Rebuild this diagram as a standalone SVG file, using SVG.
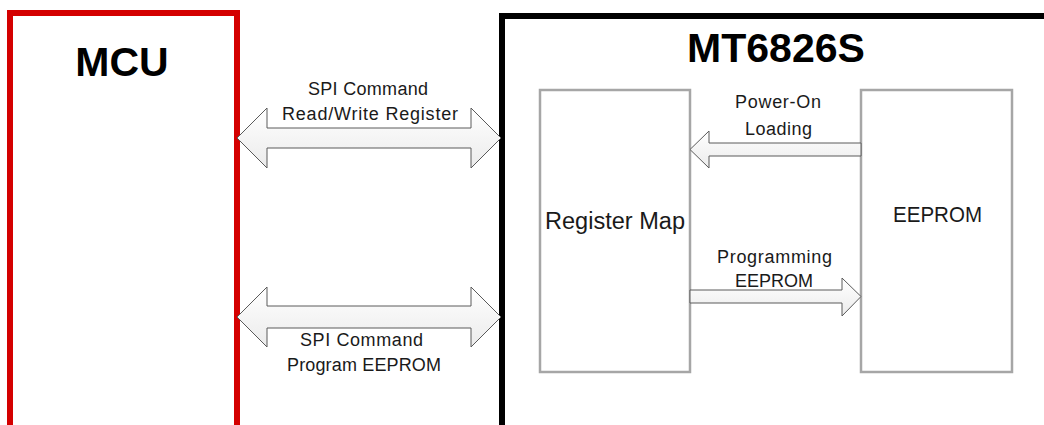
<svg xmlns="http://www.w3.org/2000/svg" width="1044" height="425" viewBox="0 0 1044 425">
  <defs>
    <linearGradient id="arrowFill" x1="0" y1="0" x2="0" y2="1">
      <stop offset="0" stop-color="#ffffff"/>
      <stop offset="1" stop-color="#ebebeb"/>
    </linearGradient>
    <style>
      .title { font-family: "Liberation Sans", Arial, sans-serif; font-weight: bold; font-size: 41px; fill: #000; text-anchor: middle; }
      .lbl { font-family: "Liberation Sans", Arial, sans-serif; font-size: 18px; fill: #1a1a1a; text-anchor: middle; }
      .blk { font-family: "Liberation Sans", Arial, sans-serif; fill: #1a1a1a; text-anchor: middle; }
      .arrow { fill: url(#arrowFill); stroke: #5a5a5a; stroke-width: 1; stroke-linejoin: miter; }
      .inner { fill: #fff; stroke: #a6a6a6; stroke-width: 2.5; }
    </style>
  </defs>
  <rect width="1044" height="425" fill="#fff"/>

  <g id="mcu">
    <path d="M10,430 V13 H237 V430" fill="none" stroke="#d40000" stroke-width="6"/>
    <text class="title" x="122" y="76">MCU</text>
  </g>

  <g id="mt6826s">
    <path d="M502,430 V16 H1050" fill="none" stroke="#000" stroke-width="6"/>
    <text class="title" x="776" y="62">MT6826S</text>
  </g>

  <g id="register-map">
    <rect class="inner" x="540" y="90" width="150" height="282"/>
    <text class="blk" x="615" y="229" font-size="23" textLength="140" lengthAdjust="spacingAndGlyphs">Register Map</text>
  </g>

  <g id="eeprom">
    <rect class="inner" x="861" y="90" width="151" height="282"/>
    <text class="blk" x="937.5" y="222" font-size="22" textLength="89" lengthAdjust="spacingAndGlyphs">EEPROM</text>
  </g>

  <g id="connectors">
    <g id="spi-rw">
      <polygon class="arrow" points="237,138 267,108 267,128 471,128 471,108 501,138 471,168 471,148 267,148 267,168"/>
      <text class="lbl" x="368" y="95" textLength="120" lengthAdjust="spacing">SPI Command</text>
      <text class="lbl" x="370" y="120" textLength="176" lengthAdjust="spacing">Read/Write Register</text>
    </g>
    <g id="spi-prog">
      <polygon class="arrow" points="237,317 267,287 267,306 471,306 471,287 501,317 471,347 471,328 267,328 267,347"/>
      <text class="lbl" x="361.5" y="346" textLength="123" lengthAdjust="spacing">SPI Command</text>
      <text class="lbl" x="364" y="371" textLength="154" lengthAdjust="spacing">Program EEPROM</text>
    </g>
    <g id="power-on">
      <polygon class="arrow" points="861,143 709,143 709,131 690,149.5 709,168 709,156 861,156"/>
      <text class="lbl" x="778" y="108" textLength="86" lengthAdjust="spacing">Power-On</text>
      <text class="lbl" x="778.5" y="135" textLength="67" lengthAdjust="spacing">Loading</text>
    </g>
    <g id="programming">
      <polygon class="arrow" points="690,290 842,290 842,278 861,296.5 842,316 842,303 690,303"/>
      <text class="lbl" x="774.5" y="263" textLength="115" lengthAdjust="spacing">Programming</text>
      <text class="lbl" x="774" y="287" font-size="16.6">EEPROM</text>
    </g>
  </g>
</svg>
